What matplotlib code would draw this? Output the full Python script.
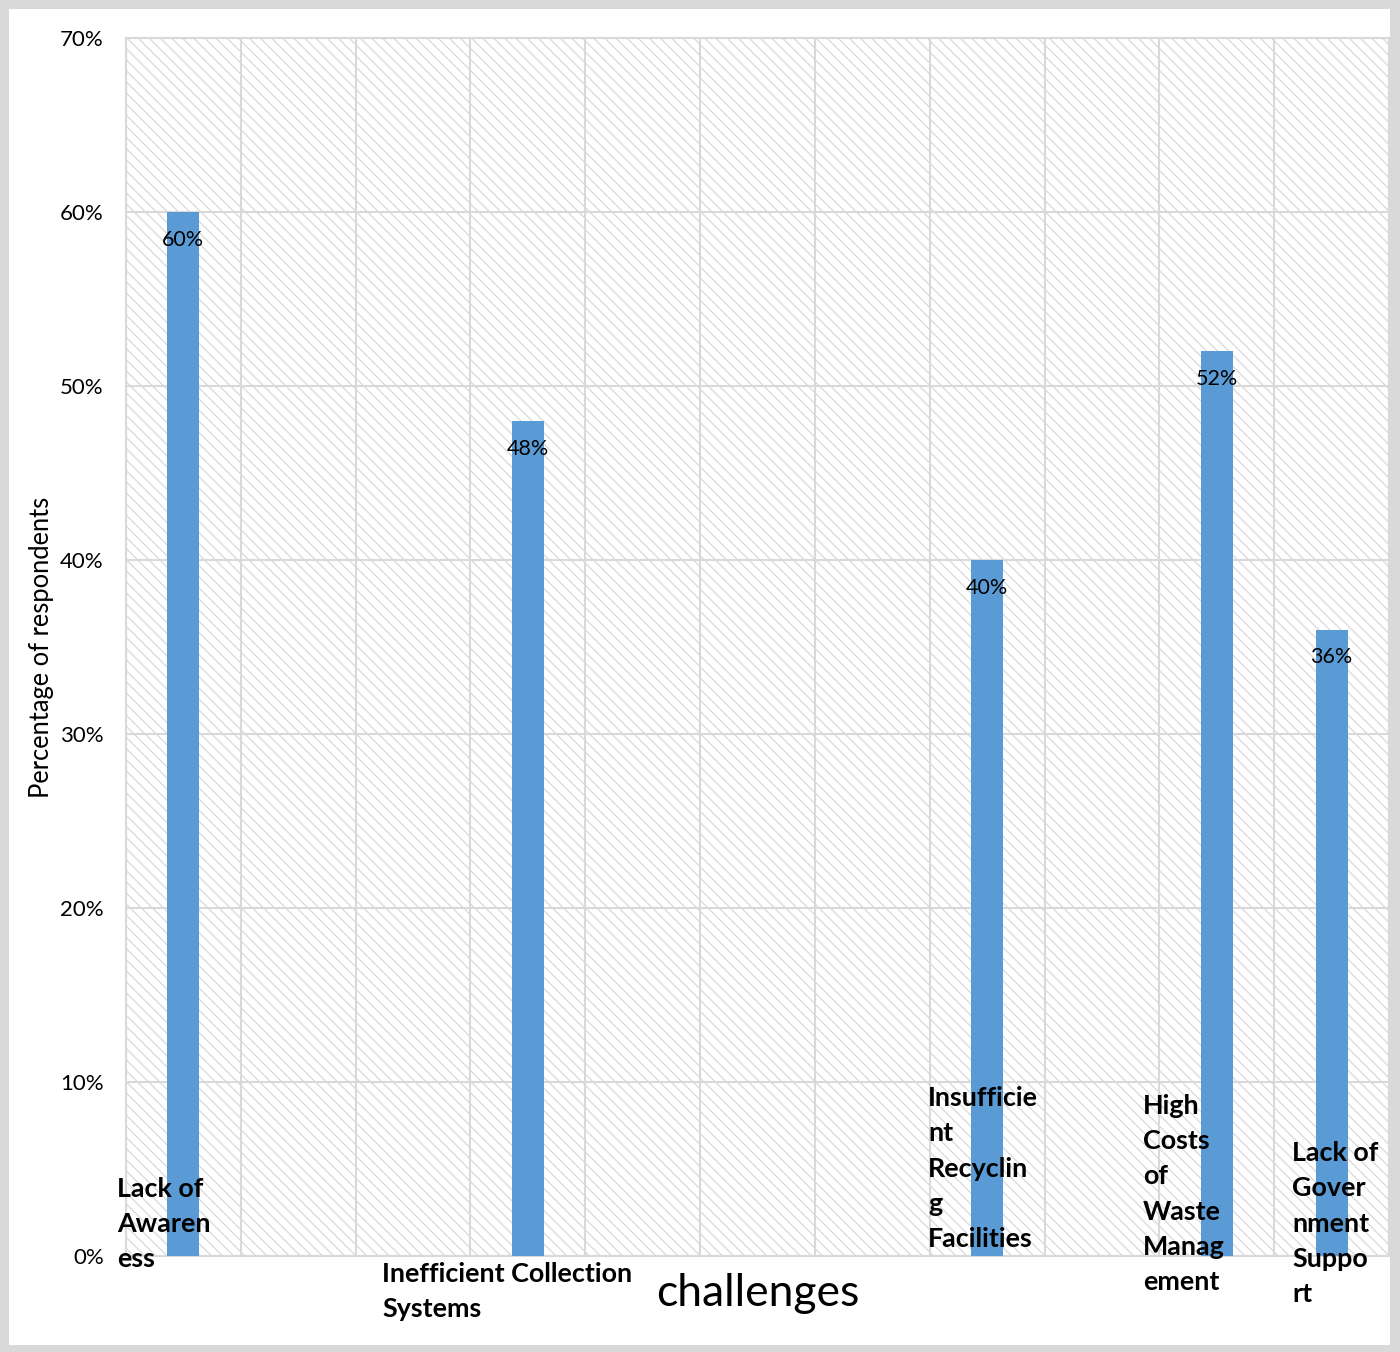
import matplotlib.pyplot as plt
import matplotlib.patches as mpatches

# survey results: share of respondents naming each challenge
challenges = [
    "Lack of\nAwaren\ness",
    "Inefficient Collection\nSystems",
    "Insufficie\nnt\nRecyclin\ng\nFacilities",
    "High\nCosts\nof\nWaste\nManag\nement",
    "Lack of\nGover\nnment\nSuppo\nrt",
]
slots = [0.5, 3.5, 7.5, 9.5, 10.5]
percent = [60, 48, 40, 52, 36]
yticks = [0, 10, 20, 30, 40, 50, 60, 70]

# where each wrapped category label sits (left edge / last-line baseline, px)
label_left = [117, 382, 928, 1143, 1292]
label_base = [1267, 1317, 1247, 1290, 1302]

W, H = 1400, 1352
GRID = "#d9d9d9"
BAR = "#5b9bd5"

plt.rcParams["font.family"] = ["Lato", "DejaVu Sans"]
plt.rcParams["hatch.color"] = GRID
plt.rcParams["hatch.linewidth"] = 0.9

fig = plt.figure(figsize=(W / 100, H / 100), dpi=100)
fig.patch.set_facecolor(GRID)
fig.add_artist(mpatches.Rectangle((9 / W, 7 / H), (1390 - 9) / W, (1344 - 8) / H,
                                  transform=fig.transFigure, facecolor="white",
                                  edgecolor="none", zorder=-1))

ax = fig.add_axes([126 / W, 1 - 1256 / H, (1389 - 126) / W, (1256 - 38) / H])
ax.patch.set_facecolor("white")
# diagonal fill pattern over the plot area
ax.add_patch(mpatches.Rectangle((0, 0), 1, 1, transform=ax.transAxes,
                                facecolor="none", edgecolor=GRID, linewidth=0,
                                hatch="\\\\\\", zorder=0.5))

ax.bar(slots, percent, width=0.28, color=BAR, zorder=3)
for x, v in zip(slots, percent):
    ax.annotate(f"{v}%", (x, v), xytext=(0, -20), textcoords="offset points",
                ha="center", va="center", fontsize=15.5, color="black", zorder=4)

ax.set_xlim(0, 11)
ax.set_ylim(0, 70)
ax.set_xticks(range(12))
ax.set_xticklabels([])
ax.set_yticks(yticks)
ax.set_yticklabels([f"{t}%" for t in yticks])
ax.tick_params(length=0)
ax.tick_params(axis="y", pad=16, labelsize=16)
ax.grid(True, color=GRID, linewidth=1.5, zorder=1)
ax.set_axisbelow(True)
for s in ax.spines.values():
    s.set_color(GRID)
    s.set_linewidth(1.5)

ax.set_ylabel("Percentage of respondents", fontsize=18.4, va="center")
ax.yaxis.set_label_coords((42 - 126) / (1389 - 126), 0.5)
ax.set_xlabel("challenges", fontsize=32, va="center")
ax.xaxis.set_label_coords(0.5, (1256 - 1293) / (1256 - 38))

for name, lx, by in zip(challenges, label_left, label_base):
    fig.text(lx / W, 1 - by / H, name, ha="left", va="baseline",
             fontsize=19.4, fontweight="bold", linespacing=1.56, zorder=5)

fig.savefig("out.png", dpi=100, facecolor=fig.get_facecolor())
